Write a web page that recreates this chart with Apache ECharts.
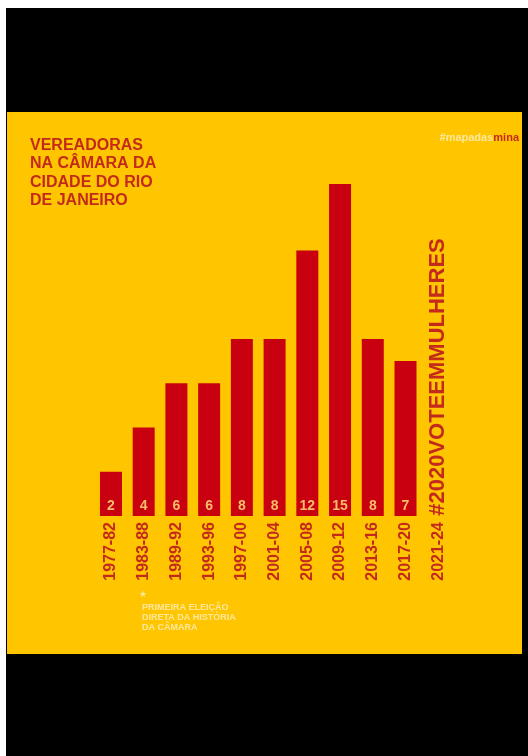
<!DOCTYPE html>
<html>
<head>
<meta charset="utf-8">
<script src="https://cdn.jsdelivr.net/npm/echarts@6/dist/echarts.min.js"></script>
<style>
  html, body { margin: 0; padding: 0; background: #fff; }
  #main { width: 528px; height: 756px; }
</style>
</head>
<body>
<div id="main"></div>
<script>
// mandatos da câmara
const periodos = ['1977-82', '1983-88', '1989-92', '1993-96', '1997-00', '2001-04',
  '2005-08', '2009-12', '2013-16', '2017-20', '2021-24'];
// número de vereadoras eleitas (2021-24 ainda sem dado)
const vereadoras = [2, 4, 6, 6, 8, 8, 12, 15, 8, 7, null];

const vermelho = '#c9000f';
const textoVermelho = '#c42a1c';
const amarelo = '#ffc600';

const myChart = echarts.init(document.getElementById('main'));

const option = {
  backgroundColor: '#fff',
  animation: false,
  textStyle: { fontFamily: 'Liberation Sans, Arial, sans-serif' },
  title: [
    {
      text: 'VEREADORAS\nNA CÂMARA DA\nCIDADE DO RIO\nDE JANEIRO',
      left: 25,
      top: 131,
      textStyle: {
        color: textoVermelho,
        fontSize: 16,
        fontWeight: 'bold',
        lineHeight: 18.5
      }
    },
    {
      text: '{a|#mapadas}{b|mina}',
      right: 4,
      top: 127,
      textStyle: {
        rich: {
          a: { color: '#fde79a', fontSize: 11, fontWeight: 'bold' },
          b: { color: textoVermelho, fontSize: 11, fontWeight: 'bold' }
        }
      }
    }
  ],
  graphic: [
    { type: 'rect', z: -10, shape: { x: 6, y: 8, width: 522, height: 748 }, style: { fill: '#000' } },
    { type: 'rect', z: -9, shape: { x: 7, y: 112, width: 515, height: 542 }, style: { fill: amarelo } },
    {
      type: 'text',
      x: 438, y: 377,
      rotation: Math.PI / 2,
      style: {
        text: '#2020VOTEEMMULHERES',
        fill: textoVermelho,
        font: 'bold 22px Liberation Sans, Arial, sans-serif',
        align: 'center',
        verticalAlign: 'middle'
      }
    },
    {
      type: 'text',
      x: 139, y: 590,
      style: {
        text: '★',
        fill: '#fde79a',
        font: 'bold 9px DejaVu Sans, sans-serif'
      }
    },
    {
      type: 'text',
      x: 142, y: 603,
      style: {
        text: 'PRIMEIRA ELEIÇÃO\nDIRETA DA HISTÓRIA\nDA CÂMARA',
        fill: '#fde79a',
        font: 'bold 9px Liberation Sans, Arial, sans-serif',
        lineHeight: 10
      }
    }
  ],
  grid: {
    left: 94.6,
    right: 73.4,
    top: 184,
    bottom: 240
  },
  xAxis: {
    type: 'category',
    data: periodos,
    axisLine: { show: false },
    axisTick: { show: false },
    axisLabel: {
      rotate: 90,
      margin: 6,
      interval: 0,
      color: textoVermelho,
      fontSize: 16,
      fontWeight: 'bold'
    }
  },
  yAxis: {
    type: 'value',
    min: 0,
    max: 15,
    show: false,
    splitLine: { show: false }
  },
  series: [
    {
      type: 'bar',
      data: vereadoras,
      barWidth: 22,
      itemStyle: { color: vermelho },
      label: {
        show: true,
        position: 'insideBottom',
        distance: 3,
        color: '#f5bd6a',
        fontSize: 14,
        fontWeight: 'bold'
      }
    }
  ]
};

myChart.setOption(option);
</script>
</body>
</html>
